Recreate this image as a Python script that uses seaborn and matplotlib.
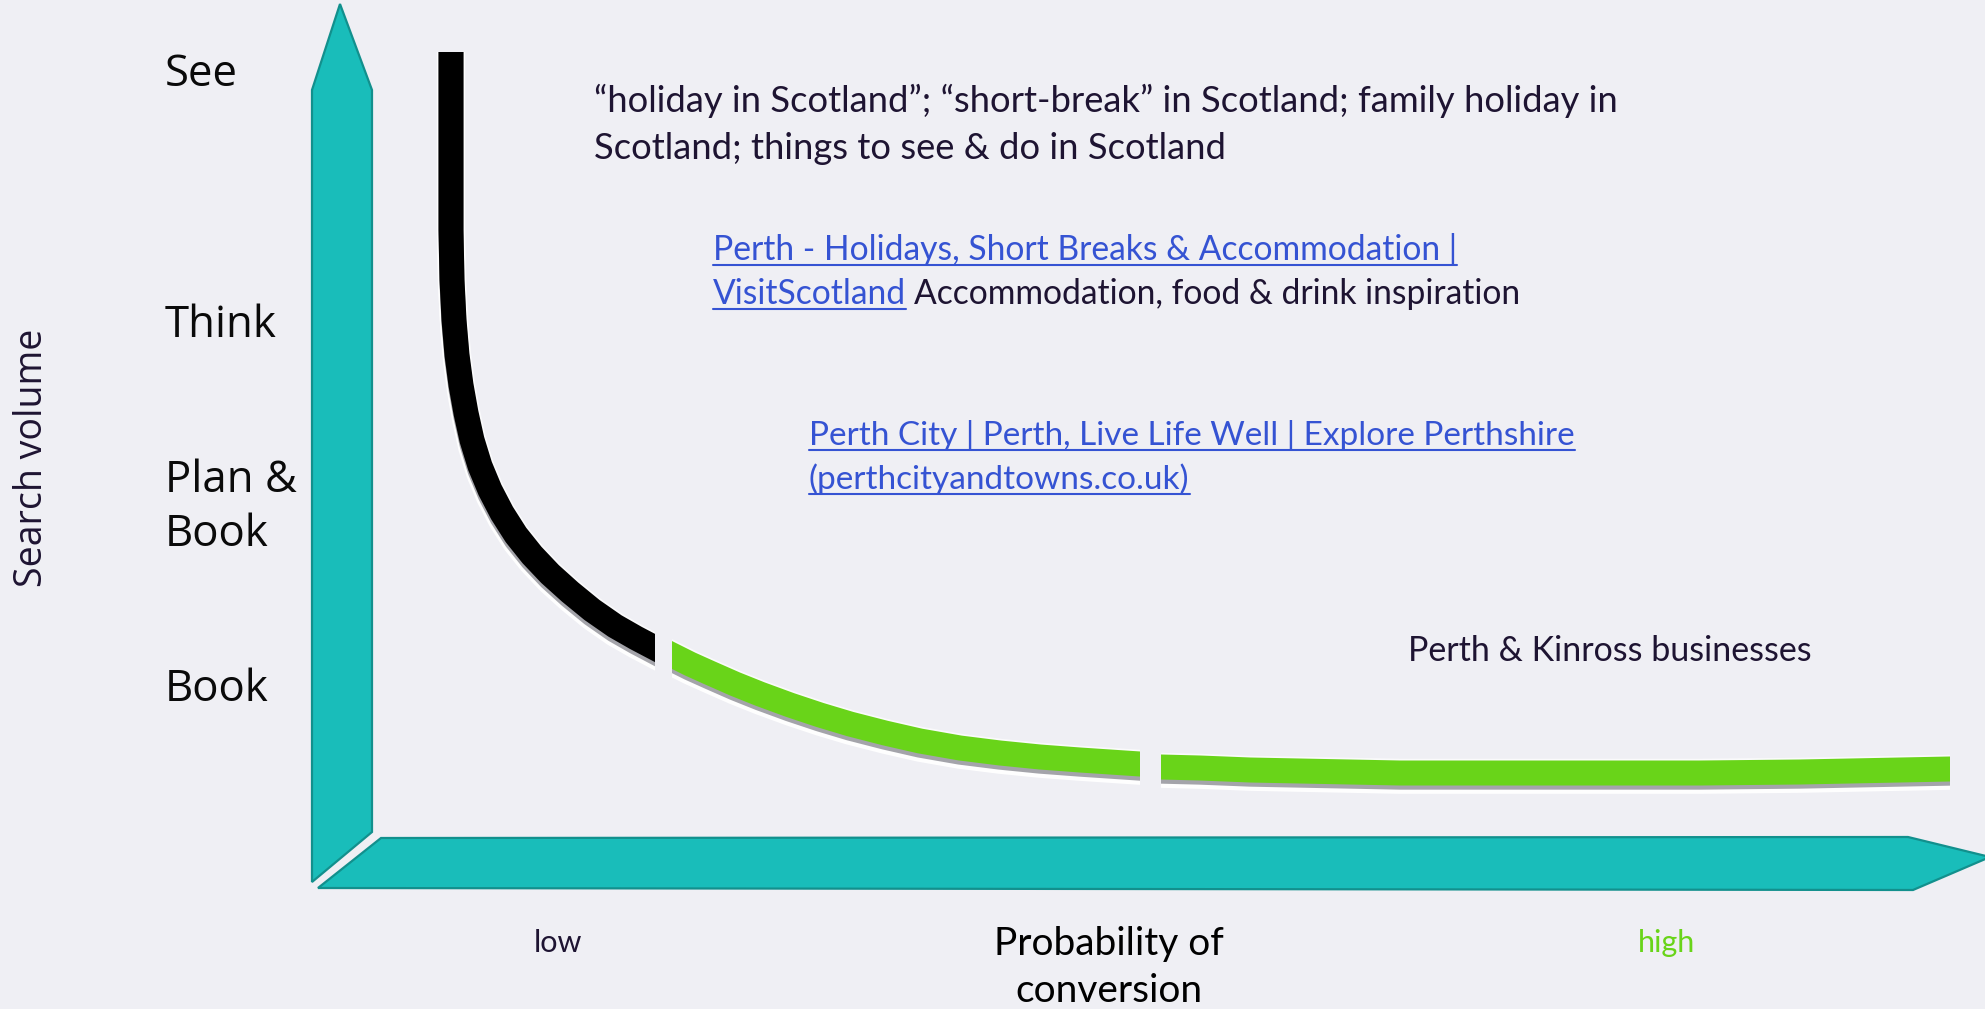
import matplotlib
matplotlib.use('Agg')
import matplotlib.pyplot as plt
import matplotlib.patheffects as pe
from matplotlib.patches import Polygon, Rectangle
import pandas as pd
import seaborn as sns

# funnel curve, in picture pixels (y grows downwards)
see_x = [451, 451, 451, 452, 454, 457, 461, 466, 472, 480, 490, 502, 516, 532, 550, 570, 592, 615, 636, 655]
see_y = [52, 150, 230, 280, 320, 355, 385, 413, 440, 466, 490, 513, 535, 555, 574, 592, 610, 626, 638, 648]
plan_x = [672, 690, 710, 735, 760, 790, 820, 850, 885, 920, 960, 1000, 1040, 1080, 1110, 1140]
plan_y = [655, 664, 673, 684, 694, 705, 715, 724, 733, 741, 748, 753, 757, 760, 762, 764]
book_x = [1161, 1200, 1250, 1300, 1350, 1400, 1500, 1600, 1700, 1800, 1900, 1950]
book_y = [767, 768, 770, 771, 772, 773, 773, 773, 773, 772, 770, 769]

stage_labels = ['See', 'Think', 'Plan &', 'Book', 'Book']
query_lines = ['\u201choliday in Scotland\u201d; \u201cshort-break\u201d in Scotland; family holiday in',
               'Scotland; things to see & do in Scotland']
link1 = ['Perth - Holidays, Short Breaks & Accommodation |', 'VisitScotland']
link1_tail = 'Accommodation, food & drink inspiration'
link2 = ['Perth City | Perth, Live Life Well | Explore Perthshire', '(perthcityandtowns.co.uk)']
business_text = 'Perth & Kinross businesses'
x_title = ['Probability of', 'conversion']

W, H = 1985, 1009
BG = '#EFEFF4'
TEAL = '#19BDBA'
TEAL_EDGE = '#12908D'
GREEN = '#69D419'
INK = '#1E1432'
LINK = '#3553D3'
LABEL_FONT = ['Open Sans', 'DejaVu Sans']

sns.set_theme(style='white', rc={'figure.facecolor': BG, 'axes.facecolor': BG})
plt.rcParams['font.family'] = ['Lato', 'DejaVu Sans']

fig = plt.figure(figsize=(W / 100, H / 100), dpi=100)
ax = fig.add_axes([0, 0, 1, 1])

# axis arrows
ax.add_patch(Polygon([(340, 4), (372, 90), (372, 832), (312, 882), (312, 90)],
                     closed=True, fc=TEAL, ec=TEAL_EDGE, lw=1.6, zorder=1))
ax.add_patch(Polygon([(381, 838), (1908, 837), (1990, 857), (1913, 890), (318, 888)],
                     closed=True, fc=TEAL, ec=TEAL_EDGE, lw=1.6, zorder=1))

curve = pd.concat([
    pd.DataFrame({'x': see_x, 'y': see_y, 'seg': 'see'}),
    pd.DataFrame({'x': plan_x, 'y': plan_y, 'seg': 'plan'}),
    pd.DataFrame({'x': book_x, 'y': book_y, 'seg': 'book'}),
])
seg_colors = {'see': 'black', 'plan': GREEN, 'book': GREEN}

fx = [pe.Stroke(linewidth=20, foreground='white', alpha=0.95, offset=(0, -5)),
      pe.Stroke(linewidth=20.5, foreground='white', alpha=0.7),
      pe.SimpleLineShadow(offset=(0, -3), shadow_color='#8e8e95', alpha=0.8),
      pe.Normal()]
for seg, color in seg_colors.items():
    part = curve[curve['seg'] == seg]
    sns.lineplot(data=part, x='x', y='y', estimator=None, sort=False,
                 color=color, linewidth=18, solid_capstyle='projecting', solid_joinstyle='round',
                 path_effects=fx, ax=ax, legend=False, zorder=3)
    # square cuts like the reference: clip the projecting caps at the segment ends
    x0, x1 = part['x'].min(), part['x'].max()
    y0 = part['y'].min() if seg == 'see' else 0
    clip = Rectangle((x0 - 40 if seg == 'see' else x0, y0), x1 - x0 + (40 if seg == 'see' else 0),
                     H - y0, transform=ax.transData)
    ax.lines[-1].set_clip_path(clip)

ax.set_xlim(0, W)
ax.set_ylim(H, 0)
ax.axis('off')

# stage labels and axis titles
for lab, y in zip(stage_labels, [86, 337, 492, 546, 701]):
    ax.text(165, y, lab, fontsize=31.5, family=LABEL_FONT, color='#0a0a0a',
            va='baseline', ha='left')
ax.text(32, 458, 'Search volume', rotation=90, fontsize=27, family=LABEL_FONT,
        color=INK, va='center', ha='center')
ax.text(558, 952, 'low', fontsize=22, color=INK, ha='center', va='baseline')
ax.text(1666, 952, 'high', fontsize=22, color=GREEN, ha='center', va='baseline')
for line, y in zip(x_title, [955, 1002]):
    ax.text(1109, y, line, fontsize=28, color='black', ha='center', va='baseline')

# annotations
for line, y in zip(query_lines, [112, 159]):
    ax.text(594, y, line, fontsize=26.2, color=INK, ha='left', va='baseline')
ax.text(1408, 661, business_text, fontsize=24.5, color=INK, ha='left', va='baseline')

fig.canvas.draw()
renderer = fig.canvas.get_renderer()
inv = ax.transData.inverted()


def link_text(x, y, s, size=24.2):
    t = ax.text(x, y, s, fontsize=size, color=LINK, ha='left', va='baseline')
    bb = t.get_window_extent(renderer).transformed(inv)
    ax.plot([bb.x0, bb.x1], [y + 5, y + 5], color=LINK, lw=1.5)
    return bb.x1


link_text(713, 260, link1[0])
end = link_text(713, 304, link1[1])
ax.text(end + 8, 304, link1_tail, fontsize=24.2, color=INK, ha='left', va='baseline')
link_text(809, 445, link2[0], 24)
link_text(809, 489, link2[1], 24)

fig.savefig('out.png', dpi=100, facecolor=BG)
